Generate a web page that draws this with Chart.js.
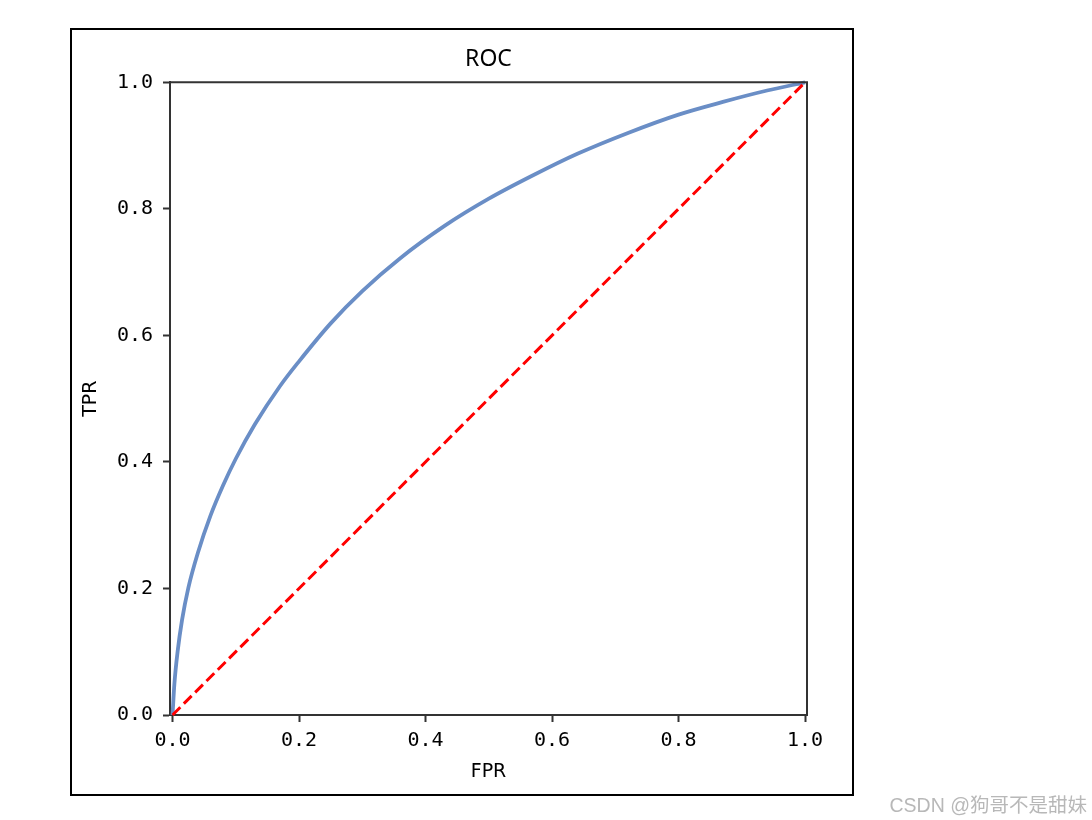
<!DOCTYPE html>
<html>
<head>
<meta charset="utf-8">
<script src="https://cdn.jsdelivr.net/npm/chart.js@4"></script>
<style>
  html, body { margin: 0; padding: 0; background: #fff; }
  #wrap { position: relative; width: 1092px; height: 820px; overflow: hidden; }
  #frame { position: absolute; left: 70px; top: 28px; width: 784px; height: 768px; box-sizing: border-box; border: 2px solid #000; }
  #roc { position: absolute; left: 0; top: 0; }
  #mark { position: absolute; right: 5px; top: 789px; font-family: "Liberation Sans", "Noto Sans CJK SC", sans-serif; font-size: 19.5px; color: #b8b8b8; }
</style>
</head>
<body>
<div id="wrap">
  <div id="frame"></div>
  <canvas id="roc" width="1092" height="820"></canvas>
  <div id="mark">CSDN @狗哥不是甜妹</div>
</div>
<script>
// ROC curve
let FPR = [0, 0.003, 0.008, 0.015, 0.025, 0.04, 0.06, 0.08, 0.1, 0.13, 0.17, 0.2, 0.25, 0.3, 0.36, 0.43, 0.5, 0.57, 0.64, 0.72, 0.8, 0.87, 0.94, 1.0];
let TPR = [0, 0.050, 0.100, 0.150, 0.201, 0.256, 0.315, 0.363, 0.405, 0.459, 0.520, 0.559, 0.619, 0.670, 0.722, 0.773, 0.816, 0.853, 0.887, 0.920, 0.949, 0.969, 0.987, 1.0];

// chance line
let DIAG_X = [0, 1];
let DIAG_Y = [0, 1];

let X_TICKS = [0, 0.2, 0.4, 0.6, 0.8, 1.0];
let Y_TICKS = [0, 0.2, 0.4, 0.6, 0.8, 1.0];

const AXIS_COLOR = '#333';
const TICK_FONT = { family: 'DejaVu Sans Mono', size: 20 };
const LABEL_FONT = { family: 'DejaVu Sans', size: 19 };

function toPoints(xs, ys) {
    return xs.map((x, i) => ({ x: x, y: ys[i] }));
}

// top + right spines
const boxPlugin = {
    id: 'box',
    afterDatasetsDraw(chart) {
        const { ctx, chartArea } = chart;
        ctx.save();
        ctx.strokeStyle = AXIS_COLOR;
        ctx.lineWidth = 2;
        ctx.beginPath();
        ctx.moveTo(chartArea.left, chartArea.top);
        ctx.lineTo(chartArea.right, chartArea.top);
        ctx.lineTo(chartArea.right, chartArea.bottom);
        ctx.stroke();
        ctx.restore();
    }
};

const ctx = document.getElementById('roc');

new Chart(ctx, {
    type: 'scatter',
    data: {
        datasets: [{
            label: 'ROC',
            data: toPoints(FPR, TPR),
            showLine: true,
            borderColor: '#6a8ec6',
            borderWidth: 3.8,
            pointRadius: 0,
            cubicInterpolationMode: 'monotone',
            clip: false,
            order: 1
        }, {
            label: 'random',
            data: toPoints(DIAG_X, DIAG_Y),
            showLine: true,
            borderColor: '#ff0000',
            borderWidth: 3,
            borderDash: [11, 5],
            pointRadius: 0,
            clip: false,
            order: 0
        }]
    },
    options: {
        responsive: false,
        animation: false,
        layout: { padding: { left: 0, right: 285, top: 0, bottom: 0 } },
        plugins: {
            legend: { display: false },
            tooltip: { enabled: false },
            title: {
                display: true,
                fullSize: false,
                text: 'ROC',
                color: '#000',
                font: { family: 'Noto Sans', size: 23, weight: 'normal' },
                padding: { top: 46, bottom: 8.7 }
            }
        },
        scales: {
            x: {
                type: 'linear',
                min: -0.004,
                max: 1.003,
                afterBuildTicks: (scale) => { scale.ticks = X_TICKS.map(v => ({ value: v })); },
                afterFit: (scale) => { scale.height = 105; },
                ticks: {
                    color: '#000',
                    font: TICK_FONT,
                    padding: 7,
                    maxRotation: 0,
                    callback: (v) => v.toFixed(1)
                },
                grid: { drawOnChartArea: false, drawTicks: true, tickLength: 7, tickColor: AXIS_COLOR, tickWidth: 2 },
                border: { display: true, color: AXIS_COLOR, width: 2 },
                title: { display: true, text: 'FPR', color: '#000', font: LABEL_FONT, padding: { top: 0, bottom: 37 } }
            },
            y: {
                type: 'linear',
                min: 0,
                max: 1,
                afterBuildTicks: (scale) => { scale.ticks = Y_TICKS.map(v => ({ value: v })); },
                afterFit: (scale) => { scale.width = 170; },
                ticks: {
                    color: '#000',
                    font: TICK_FONT,
                    padding: 10,
                    callback: (v) => v.toFixed(1)
                },
                grid: { drawOnChartArea: false, drawTicks: true, tickLength: 7, tickColor: AXIS_COLOR, tickWidth: 2 },
                border: { display: true, color: AXIS_COLOR, width: 2 },
                title: { display: true, text: 'TPR', color: '#000', font: LABEL_FONT, padding: { top: 80, bottom: 0 } }
            }
        }
    },
    plugins: [boxPlugin]
});
</script>
</body>
</html>
